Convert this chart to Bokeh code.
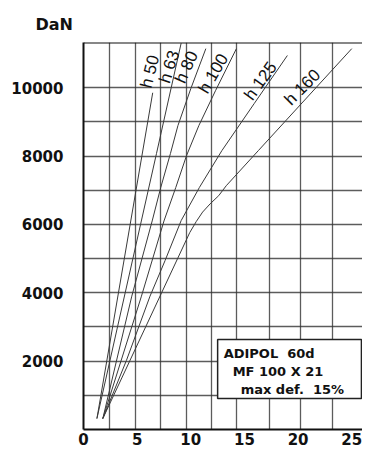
from bokeh.plotting import figure
from bokeh.models import FixedTicker, Span, BoxAnnotation, Label, ColumnDataSource
from bokeh.embed import file_html
from bokeh.resources import INLINE
from bokeh.core.properties import value

# ---- data ----
x_ticks = [0, 5, 10, 15, 20, 25]
y_ticks = [2000, 4000, 6000, 8000, 10000]
x_grid = [2.4, 4.8, 7.2, 9.6, 11.9, 14.3, 17.3, 20.2, 23.2]
y_grid = [1000, 2000, 3000, 4000, 5000, 6000, 7000, 8000, 9000, 10000]

h50_x = [1.25, 6.45]
h50_y = [320, 9850]
h63_x = [1.25, 6.8, 9.1]
h63_y = [320, 8070, 11300]
h80_x = [1.8, 4.5, 6.4, 7.2, 8.1, 8.8, 10.0, 11.4]
h80_y = [320, 3900, 6100, 7080, 8070, 8890, 9970, 11140]
h100_x = [1.8, 5.4, 7.5, 8.6, 9.6, 10.75, 12.3, 14.25]
h100_y = [320, 3900, 6100, 7080, 8010, 8890, 9910, 11140]
h125_x = [1.8, 4.0, 6.2, 7.6, 9.1, 10.8, 12.9, 15.9, 19.0]
h125_y = [320, 2020, 3900, 4940, 6110, 7080, 8160, 9530, 10940]
h160_x = [1.8, 9.9, 10.5, 11.1, 11.8, 12.6, 13.3, 16.3, 25.0]
h160_y = [320, 5760, 6080, 6360, 6600, 6840, 7130, 8160, 11140]

label_text = ["h 50", "h 63", "h 80", "h 100", "h 125", "h 160"]
label_x = [6.2, 8.0, 9.6, 12.1, 16.5, 20.4]
label_y = [10470, 10610, 10600, 10410, 10190, 10010]
label_angle = [76, 72, 66, 60, 54, 45]

box_lines = ["ADIPOL\u00a0 60d", "MF 100 X 21", "max def.\u00a0 15%"]
unit_label = "DaN"

# ---- figure ----
X_END, Y_END = 26.0, 11320
p = figure(width=362, height=447, x_range=(0, X_END), y_range=(0, Y_END),
           output_backend="svg", toolbar_location=None,
           min_border_left=83, min_border_right=0, min_border_top=42, min_border_bottom=18)
p.outline_line_color = None
p.background_fill_color = "white"

p.title.text = unit_label
p.title.align = "left"
p.title.offset = -48
p.title.standoff = 18
p.title.text_font = "DejaVu Sans"
p.title.text_font_style = "bold"
p.title.text_font_size = "16px"
p.title.text_color = "#111111"

for ax in (p.xaxis[0], p.yaxis[0]):
    ax.axis_line_width = 2
    ax.axis_line_color = "#111111"
    ax.major_tick_out = 0
    ax.major_tick_in = 0
    ax.minor_tick_out = 0
    ax.minor_tick_in = 0
    ax.axis_label_standoff = 0
    ax.major_tick_line_color = None
    ax.minor_tick_line_color = None
    ax.major_label_text_font = "DejaVu Sans"
    ax.major_label_text_font_style = "bold"
    ax.major_label_text_font_size = "15px"
    ax.major_label_text_color = "#111111"

p.xaxis.ticker = FixedTicker(ticks=x_ticks)
p.yaxis.ticker = FixedTicker(ticks=y_ticks)
p.xaxis.major_label_standoff = 3
p.yaxis.major_label_standoff = 20

p.xgrid.ticker = FixedTicker(ticks=x_grid)
p.ygrid.ticker = FixedTicker(ticks=y_grid)
for g in (p.xgrid[0], p.ygrid[0]):
    g.grid_line_color = "#333333"
    g.grid_line_alpha = 0.8
    g.grid_line_width = 1.3

p.add_layout(Span(location=Y_END, dimension="width", line_color="#111111", line_width=2))

curve_color = "#3a3a3a"
for xs, ys in [(h50_x, h50_y), (h63_x, h63_y), (h80_x, h80_y),
               (h100_x, h100_y), (h125_x, h125_y), (h160_x, h160_y)]:
    p.line(xs, ys, line_color=curve_color, line_width=1)

src = ColumnDataSource(dict(x=label_x, y=label_y, t=label_text, a=label_angle))
p.text(x="x", y="y", text="t", angle="a", angle_units="deg", source=src,
       text_font=value("Liberation Sans"), text_font_size="17px",
       text_align="center", text_baseline="middle", text_color="#111111")

# legend box
p.add_layout(BoxAnnotation(left=12.5, right=25.9, bottom=906, top=2632,
                           fill_color="white", fill_alpha=1.0,
                           line_color="#222222", line_width=1.5, line_alpha=1.0))
for txt, yy, dx in zip(box_lines, [2231, 1705, 1161], [6, 15, 23]):
    p.add_layout(Label(x=12.5, y=yy, x_offset=dx, text=txt, text_font="DejaVu Sans",
                       text_font_style="bold", text_font_size="13px",
                       text_baseline="middle", text_color="#111111"))

open("out.html", "w").write(file_html(p, INLINE))
